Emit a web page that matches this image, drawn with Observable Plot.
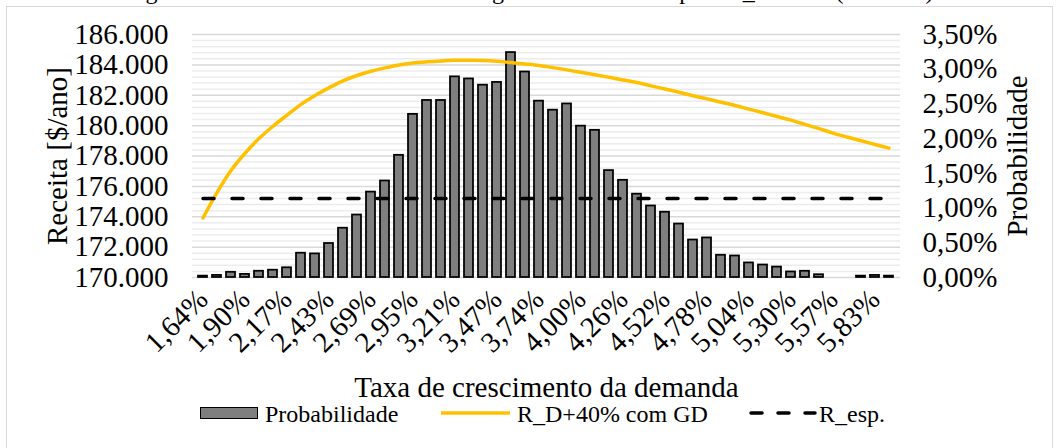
<!DOCTYPE html>
<html><head><meta charset="utf-8">
<script src="https://cdn.jsdelivr.net/npm/d3@7"></script>
<script src="https://cdn.jsdelivr.net/npm/@observablehq/plot@0.6"></script>
<style>
body{margin:0;background:#fff;font-family:"Liberation Serif",serif;color:#000;}
#wrap{position:relative;width:1059px;height:448px;overflow:hidden;background:#fff;}
#frame{position:absolute;left:6px;top:6px;width:1047px;height:470px;border:1.5px solid #d9d9d9;box-sizing:border-box;}
#title{position:absolute;left:0;width:1059px;top:-22px;text-align:center;font-size:24px;white-space:nowrap;line-height:26px;}
#chart{position:absolute;left:0;top:0;}
#legend{position:absolute;top:402px;left:0;width:1059px;height:24px;font-size:24px;line-height:24px;}
#legend .it{position:absolute;top:0;white-space:nowrap;}
svg g[aria-label$="label"]{font-size:29px;}
</style></head>
<body><div id="wrap"><div id="frame"></div>
<div id="title">Figura 4.16 - Curva de receitas e histograma da demanda para R_D+40% (com GD)</div>
<div id="chart"></div>
<div id="legend">
  <div class="it" style="left:200px;top:5px;width:58px;height:12px;background:#7f7f7f;border:1.5px solid #000;box-sizing:border-box;"></div>
  <div class="it" style="left:265px;">Probabilidade</div>
  <svg class="it" style="left:440px;" width="72" height="24"><line x1="1" x2="70" y1="11" y2="11" stroke="#ffc000" stroke-width="3.5"/></svg>
  <div class="it" style="left:517px;">R_D+40% com GD</div>
  <svg class="it" style="left:747px;" width="72" height="24"><line x1="4" x2="68" y1="11" y2="11" stroke="#000" stroke-width="3.5" stroke-linecap="round" stroke-dasharray="11,16"/></svg>
  <div class="it" style="left:819px;">R_esp.</div>
</div>
</div>
<script>
const cats = ["1,64%","1,73%","1,81%","1,90%","1,99%","2,08%","2,17%","2,25%","2,34%","2,43%",
"2,52%","2,60%","2,69%","2,78%","2,86%","2,95%","3,04%","3,12%","3,21%","3,30%",
"3,39%","3,47%","3,56%","3,65%","3,74%","3,82%","3,91%","4,00%","4,08%","4,17%",
"4,26%","4,35%","4,43%","4,52%","4,61%","4,69%","4,78%","4,87%","4,96%","5,04%",
"5,13%","5,22%","5,30%","5,39%","5,48%","5,57%","5,65%","5,74%","5,83%","5,92%"];
// Probabilidade (%)
const prob = [0.02,0.03,0.075,0.045,0.09,0.105,0.14,0.35,0.34,0.49,
0.71,0.90,1.23,1.39,1.76,2.35,2.55,2.55,2.89,2.86,
2.77,2.81,3.24,2.96,2.54,2.41,2.50,2.18,2.12,1.54,
1.40,1.20,1.03,0.94,0.77,0.54,0.57,0.32,0.31,0.21,
0.18,0.15,0.08,0.09,0.04,0,0,0.02,0.03,0.02];
// R_D+40% com GD ($/ano)
const receita = [173920,175590,177040,178180,179150,179960,180690,181400,181990,182490,
182950,183300,183580,183800,183990,184120,184200,184260,184300,184310,
184290,184240,184150,184060,183960,183820,183670,183510,183350,183180,
183010,182840,182620,182410,182200,181970,181760,181540,181330,181090,
180850,180600,180360,180080,179800,179510,179250,179000,178760,178520];
// R_esp. ($/ano)
const rEsp = 175200;
const xTickLabels = ["1,64%","1,90%","2,17%","2,43%","2,69%","2,95%","3,21%","3,47%","3,74%","4,00%","4,26%","4,52%","4,78%","5,04%","5,30%","5,57%","5,83%"];
const leftTicks = [170000,172000,174000,176000,178000,180000,182000,184000,186000];
const rightTicksPct = [0,0.5,1,1.5,2,2.5,3,3.5];

const yMin = 170000, yMax = 186000, pMax = 3.5;
const yOf = p => yMin + p / pMax * (yMax - yMin);
const data = cats.map((c, i) => ({cat: c, p: prob[i], r: receita[i]}));
const loc = d3.formatLocale({decimal: ",", thousands: ".", grouping: [3], currency: ["$", ""]});
const fL = loc.format(",d");
const fR = loc.format(".2%");
const minorTicks = d3.range(yMin, yMax + 1, 400).filter(v => (v - yMin) % 2000 !== 0);

const chart = Plot.plot({
  width: 1059, height: 401,
  marginLeft: 192, marginRight: 159, marginTop: 34, marginBottom: 124,
  style: {fontFamily: '"Liberation Serif", serif', fontSize: "26px", color: "black", background: "transparent", overflow: "visible"},
  x: {type: "band", domain: cats, paddingInner: 0.33, paddingOuter: 0.165},
  y: {domain: [yMin, yMax]},
  marks: [
    Plot.ruleY(minorTicks, {stroke: "#ececec", strokeWidth: 1.5}),
    Plot.ruleY(leftTicks, {stroke: "#d9d9d9", strokeWidth: 1.5}),
    Plot.barY(data.filter(d => d.p > 0), {x: "cat", y1: yMin, y2: d => yOf(d.p), fill: "#7f7f7f", stroke: "black", strokeWidth: 1.75}),
    Plot.line(data, {x: "cat", y: "r", stroke: "#ffc000", strokeWidth: 3.5, curve: "catmull-rom"}),
    Plot.line(data, {x: "cat", y: () => rEsp, stroke: "black", strokeWidth: 3.5, strokeDasharray: "11,18", strokeLinecap: "round"}),
    Plot.axisY(leftTicks, {anchor: "left", tickSize: 0, tickPadding: 24, tickFormat: fL, fontSize: 26,
      label: "Receita [$/ano]", labelAnchor: "center", labelOffset: 146, labelArrow: "none"}),
    Plot.axisY(rightTicksPct.map(yOf), {anchor: "right", tickSize: 0, tickPadding: 22, fontSize: 26,
      tickFormat: v => fR(Math.round((v - yMin) / (yMax - yMin) * pMax * 100) / 10000),
      label: "Probabilidade", labelAnchor: "center", labelOffset: 126, labelArrow: "none"}),
    Plot.axisX(xTickLabels, {anchor: "bottom", tickSize: 0, tickPadding: 17, tickRotate: -45, fontSize: 26,
      label: "Taxa de crescimento da demanda", labelAnchor: "center", labelOffset: 119, labelArrow: "none"})
  ]
});
document.getElementById("chart").appendChild(chart);
</script></body></html>
